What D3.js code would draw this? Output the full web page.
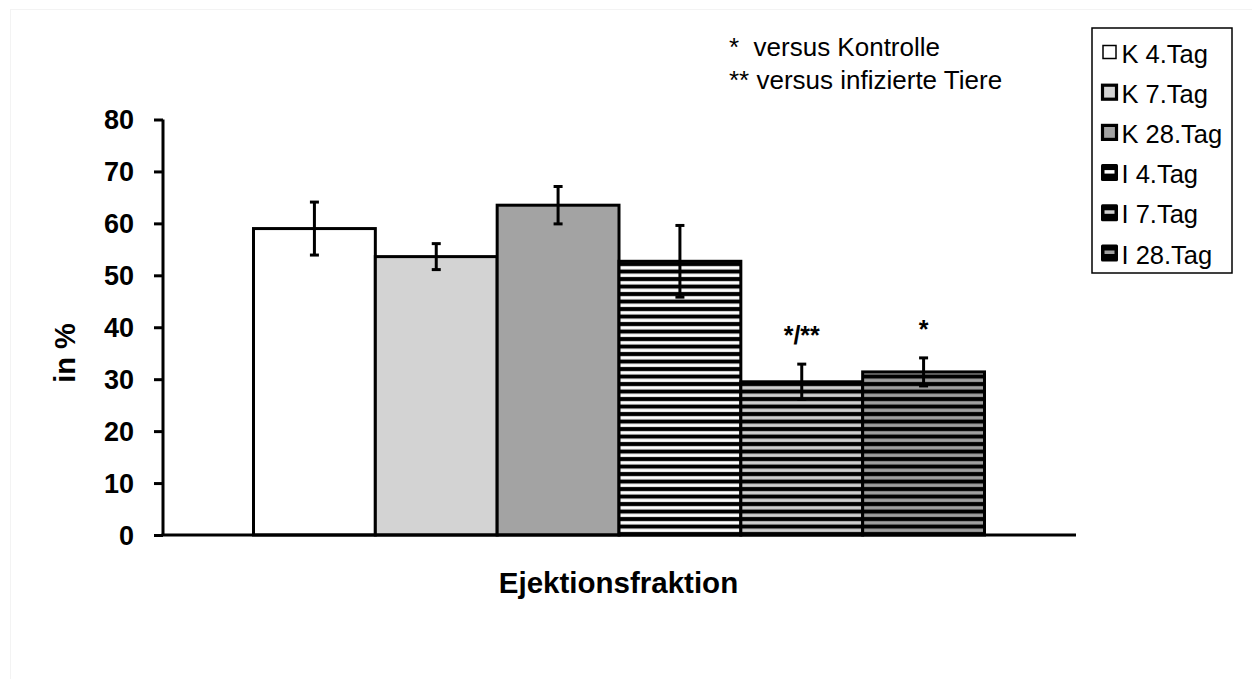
<!DOCTYPE html>
<html>
<head>
<meta charset="utf-8">
<script src="https://cdn.jsdelivr.net/npm/d3@7"></script>
<style>
  html, body { margin: 0; padding: 0; background: #fff; }
  svg { display: block; font-family: "Liberation Sans", Arial, sans-serif; }
</style>
</head>
<body>
<svg id="chart" width="1252" height="679"></svg>
<script>
// Ejection fraction per group (mean and error, in %)
const groups = ["K 4.Tag", "K 7.Tag", "K 28.Tag", "I 4.Tag", "I 7.Tag", "I 28.Tag"];
const means = [59.0, 53.6, 63.5, 52.7, 29.5, 31.4];
const errors = [5.1, 2.5, 3.6, 6.9, 3.4, 2.7];
const sigLabels = ["", "", "", "", "*/**", "*"];
const yTicks = [0, 10, 20, 30, 40, 50, 60, 70, 80];
const notes = ["*  versus Kontrolle", "** versus infizierte Tiere"];

// fill style per group: solid colour or horizontal stripes
const fills = [
  { type: "solid", color: "#ffffff" },
  { type: "solid", color: "#d3d3d3" },
  { type: "solid", color: "#a3a3a3" },
  { type: "stripe", color: "#ffffff" },
  { type: "stripe", color: "#d0d0d0" },
  { type: "stripe", color: "#a0a0a0" }
];

const svg = d3.select("#chart");

// faint frame around the drawing area
svg.append("rect")
  .attr("x", 10.5).attr("y", 9.5)
  .attr("width", 1252).attr("height", 679)
  .attr("fill", "none").attr("stroke", "#f3f3f3").attr("stroke-width", 1);

const defs = svg.append("defs");
fills.forEach((f, i) => {
  if (f.type !== "stripe") return;
  const p = defs.append("pattern")
    .attr("id", "stripe" + i)
    .attr("patternUnits", "userSpaceOnUse")
    .attr("x", 0).attr("y", 1.5)
    .attr("width", 10).attr("height", 7.5);
  p.append("rect").attr("width", 10).attr("height", 7.5).attr("fill", "#000");
  p.append("rect").attr("y", 2.1).attr("width", 10).attr("height", 3.4).attr("fill", f.color);
});
const fillOf = i => fills[i].type === "stripe" ? `url(#stripe${i})` : fills[i].color;

const x = d3.scaleBand().domain(groups).range([253.5, 984.5]).padding(0);
const y = d3.scaleLinear().domain([0, 80]).range([535, 119.5]);

// bars
svg.append("g").selectAll("rect")
  .data(groups)
  .join("rect")
  .attr("x", d => x(d))
  .attr("y", (d, i) => y(means[i]))
  .attr("width", x.bandwidth())
  .attr("height", (d, i) => y(0) - y(means[i]))
  .attr("fill", (d, i) => fillOf(i))
  .attr("stroke", "#000")
  .attr("stroke-width", 3);

// error bars
const eb = svg.append("g").attr("stroke", "#000").attr("stroke-width", 3);
groups.forEach((g, i) => {
  const cx = x(g) + x.bandwidth() / 2;
  const hi = y(means[i] + errors[i]);
  const lo = y(means[i] - errors[i]);
  eb.append("line").attr("x1", cx).attr("x2", cx).attr("y1", hi).attr("y2", lo);
  eb.append("line").attr("x1", cx - 4.5).attr("x2", cx + 4.5).attr("y1", hi).attr("y2", hi);
  eb.append("line").attr("x1", cx - 4.5).attr("x2", cx + 4.5).attr("y1", lo).attr("y2", lo);
});

// significance markers
svg.append("g").selectAll("text")
  .data(groups)
  .join("text")
  .attr("x", d => x(d) + x.bandwidth() / 2)
  .attr("y", (d, i) => y(means[i] + errors[i]) - 20)
  .attr("text-anchor", "middle")
  .attr("font-size", 25).attr("font-weight", "bold")
  .text((d, i) => sigLabels[i]);

// y axis
const yAxis = svg.append("g")
  .attr("transform", "translate(163,0)")
  .call(d3.axisLeft(y).tickValues(yTicks).tickSize(9).tickPadding(20).tickFormat(d3.format("d")));
yAxis.select(".domain").attr("stroke-width", 3).attr("d", `M0,${y(80)}V${y(0)}`);
yAxis.selectAll(".tick line").attr("stroke-width", 3);
yAxis.selectAll(".tick text")
  .attr("font-size", 27).attr("font-weight", "bold")
  .attr("font-family", "Liberation Sans, Arial, sans-serif")
  .attr("dy", "0.34em")
  .attr("fill", "#000");

// x axis baseline
svg.append("line")
  .attr("x1", 161.5).attr("x2", 1076)
  .attr("y1", y(0)).attr("y2", y(0))
  .attr("stroke", "#000").attr("stroke-width", 3);

// axis titles
svg.append("text")
  .attr("transform", "translate(75,353) rotate(-90)")
  .attr("text-anchor", "middle")
  .attr("font-size", 29).attr("font-weight", "bold")
  .text("in %");
svg.append("text")
  .attr("x", 618.5).attr("y", 592.5)
  .attr("text-anchor", "middle")
  .attr("font-size", 29.5).attr("font-weight", "bold")
  .text("Ejektionsfraktion");

// significance notes
svg.append("g").selectAll("text")
  .data(notes)
  .join("text")
  .attr("x", 729)
  .attr("y", (d, i) => 56 + i * 33)
  .attr("font-size", 26)
  .attr("xml:space", "preserve")
  .style("white-space", "pre")
  .text(d => d);

// legend
const legend = svg.append("g");
legend.append("rect")
  .attr("x", 1092).attr("y", 28)
  .attr("width", 140).attr("height", 245)
  .attr("fill", "#fff").attr("stroke", "#000").attr("stroke-width", 1.5);

groups.forEach((g, i) => {
  const cy = 52 + i * 40.2;
  const item = legend.append("g");
  if (i === 0) {
    item.append("rect")
      .attr("x", 1103).attr("y", cy - 6.5).attr("width", 13).attr("height", 13)
      .attr("fill", "#fff").attr("stroke", "#000").attr("stroke-width", 1.5);
  } else if (fills[i].type === "solid") {
    item.append("rect")
      .attr("x", 1102.5).attr("y", cy - 7).attr("width", 14).attr("height", 14)
      .attr("fill", fills[i].color).attr("stroke", "#000").attr("stroke-width", 3.2);
  } else {
    item.append("rect")
      .attr("x", 1101).attr("y", cy - 8.5).attr("width", 17).attr("height", 17).attr("rx", 1.5)
      .attr("fill", "#000");
    item.append("rect")
      .attr("x", 1104.5).attr("y", cy - 2.5).attr("width", 10).attr("height", 3.5)
      .attr("fill", fills[i].color);
  }
  item.append("text")
    .attr("x", 1121.5).attr("y", cy + 10.5)
    .attr("font-size", 25.5)
    .text(g);
});
</script>
</body>
</html>
